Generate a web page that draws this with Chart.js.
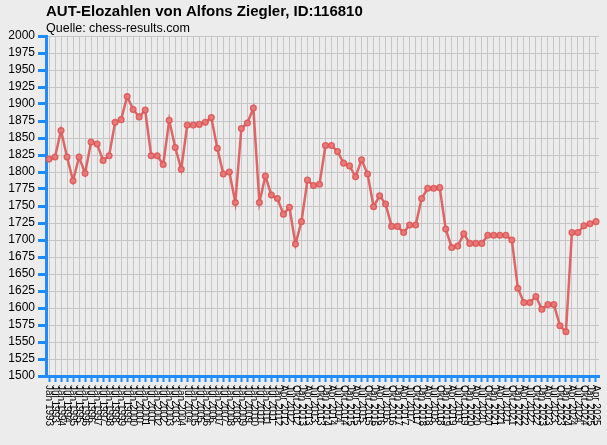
<!DOCTYPE html>
<html>
<head>
<meta charset="utf-8">
<script src="https://cdn.jsdelivr.net/npm/chart.js@4/dist/chart.umd.min.js"></script>
<style>
  html, body { margin: 0; padding: 0; background: #ececec; }
  #wrap { width: 607px; height: 445px; position: relative; }
</style>
</head>
<body>
<div id="wrap"><canvas id="grafico"></canvas></div>
<script>
// Elo lists: half-yearly until 2011, quarterly from 2012
const listen = [
  'Jan 1993','Jul 1993','Jan 1994','Jul 1994','Jan 1995','Jul 1995','Jan 1996','Jul 1996',
  'Jan 1997','Jul 1997','Jan 1998','Jul 1998','Jan 1999','Jul 1999','Jan 2000','Jul 2000',
  'Jan 2001','Jul 2001','Jan 2002','Jul 2002','Jan 2003','Jul 2003','Jan 2004','Jul 2004',
  'Jan 2005','Jul 2005','Jan 2006','Jul 2006','Jan 2007','Jul 2007','Jan 2008','Jul 2008',
  'Jan 2009','Jul 2009','Jan 2010','Jul 2010','Jan 2011','Jul 2011',
  'Jan 2012','Apr 2012','Jul 2012','Okt 2012','Jan 2013','Apr 2013','Jul 2013','Okt 2013',
  'Jan 2014','Apr 2014','Jul 2014','Okt 2014','Jan 2015','Apr 2015','Jul 2015','Okt 2015',
  'Jan 2016','Apr 2016','Jul 2016','Okt 2016','Jan 2017','Apr 2017','Jul 2017','Okt 2017',
  'Jan 2018','Apr 2018','Jul 2018','Okt 2018','Jan 2019','Apr 2019','Jul 2019','Okt 2019',
  'Jan 2020','Apr 2020','Jul 2020','Okt 2020','Jan 2021','Apr 2021','Jul 2021','Okt 2021',
  'Jan 2022','Apr 2022','Jul 2022','Okt 2022','Jan 2023','Apr 2023','Jul 2023','Okt 2023',
  'Jan 2024','Apr 2024','Jul 2024','Okt 2024','Jan 2025','Apr 2025'
];

const elo = [
  1819, 1822, 1861, 1822, 1787, 1822, 1798, 1844, 1841, 1817,
  1824, 1873, 1877, 1911, 1892, 1881, 1891, 1824, 1824, 1811,
  1876, 1836, 1804, 1869, 1869, 1870, 1873, 1880, 1835, 1797,
  1800, 1755, 1864, 1872, 1894, 1755, 1794, 1766, 1761, 1738,
  1748, 1694, 1727, 1788, 1780, 1782, 1839, 1839, 1830, 1813,
  1809, 1793, 1818, 1797, 1749, 1765, 1753, 1720, 1720, 1711,
  1722, 1722, 1761, 1776, 1776, 1777, 1716, 1689, 1691, 1709,
  1695, 1695, 1695, 1707, 1707, 1707, 1707, 1700, 1629, 1608,
  1608, 1617, 1598, 1605, 1605, 1574, 1565, 1711, 1711, 1721,
  1724, 1727
];

const yMin = 1500;
const yMax = 2000;
const yStep = 25;

const blau = '#1e8cff';
const gitter = '#c6c6c6';
const rot = 'rgba(222,88,88,0.9)';

Chart.defaults.font.family = '"Liberation Sans", Arial, sans-serif';

// x labels read top-down, so draw them ourselves at the tick positions
const senkrechteLabels = {
  id: 'senkrechteLabels',
  afterDraw(chart) {
    const scale = chart.scales.x;
    const c = chart.ctx;
    c.save();
    c.font = '10px "Liberation Sans"';
    c.fillStyle = '#000';
    c.textAlign = 'left';
    c.textBaseline = 'middle';
    scale.ticks.forEach((t, i) => {
      c.save();
      c.translate(scale.getPixelForTick(i), scale.top + 9);
      c.rotate(Math.PI / 2);
      c.fillText(scale.getLabelForValue(t.value), 0, 0);
      c.restore();
    });
    c.restore();
  }
};

const ctx = document.getElementById('grafico');

new Chart(ctx, {
  type: 'line',
  data: {
    labels: listen,
    datasets: [{
      label: 'Elo',
      data: elo,
      borderColor: rot,
      borderWidth: 2.5,
      pointRadius: 2.8,
      pointBorderWidth: 1.5,
      pointBorderColor: rot,
      pointBackgroundColor: 'rgba(232,122,122,0.9)',
      tension: 0
    }]
  },
  options: {
    responsive: true,
    maintainAspectRatio: false,
    animation: false,
    layout: { padding: { left: 0, right: 8, top: 0, bottom: 0 } },
    plugins: {
      legend: { display: false },
      tooltip: { enabled: false },
      title: {
        display: true,
        text: 'AUT-Elozahlen von Alfons Ziegler, ID:116810',
        align: 'start',
        fullSize: false,
        color: '#000',
        font: { size: 15, weight: 'bold' },
        padding: { top: 3, bottom: 0 }
      },
      subtitle: {
        display: true,
        text: 'Quelle: chess-results.com',
        align: 'start',
        fullSize: false,
        color: '#000',
        font: { size: 12.5 },
        padding: { top: 0, bottom: 0 }
      }
    },
    scales: {
      x: {
        offset: true,
        grid: {
          offset: false,
          color: gitter,
          lineWidth: 1,
          tickColor: blau,
          tickLength: 6,
          tickWidth: 2
        },
        border: { color: blau, width: 3 },
        ticks: { display: false, autoSkip: false },
        afterFit(scale) { scale.height = 69; }
      },
      y: {
        min: yMin,
        max: yMax,
        grid: {
          color: gitter,
          lineWidth: 1,
          tickColor: blau,
          tickLength: 8,
          tickWidth: 3
        },
        border: { color: blau, width: 3 },
        ticks: {
          stepSize: yStep,
          autoSkip: false,
          color: '#000',
          padding: 3,
          font: { size: 12 },
          callback: (v) => String(v)
        },
        afterFit(scale) { scale.width = 46; }
      }
    }
  },
  plugins: [senkrechteLabels]
});
</script>
</body>
</html>
